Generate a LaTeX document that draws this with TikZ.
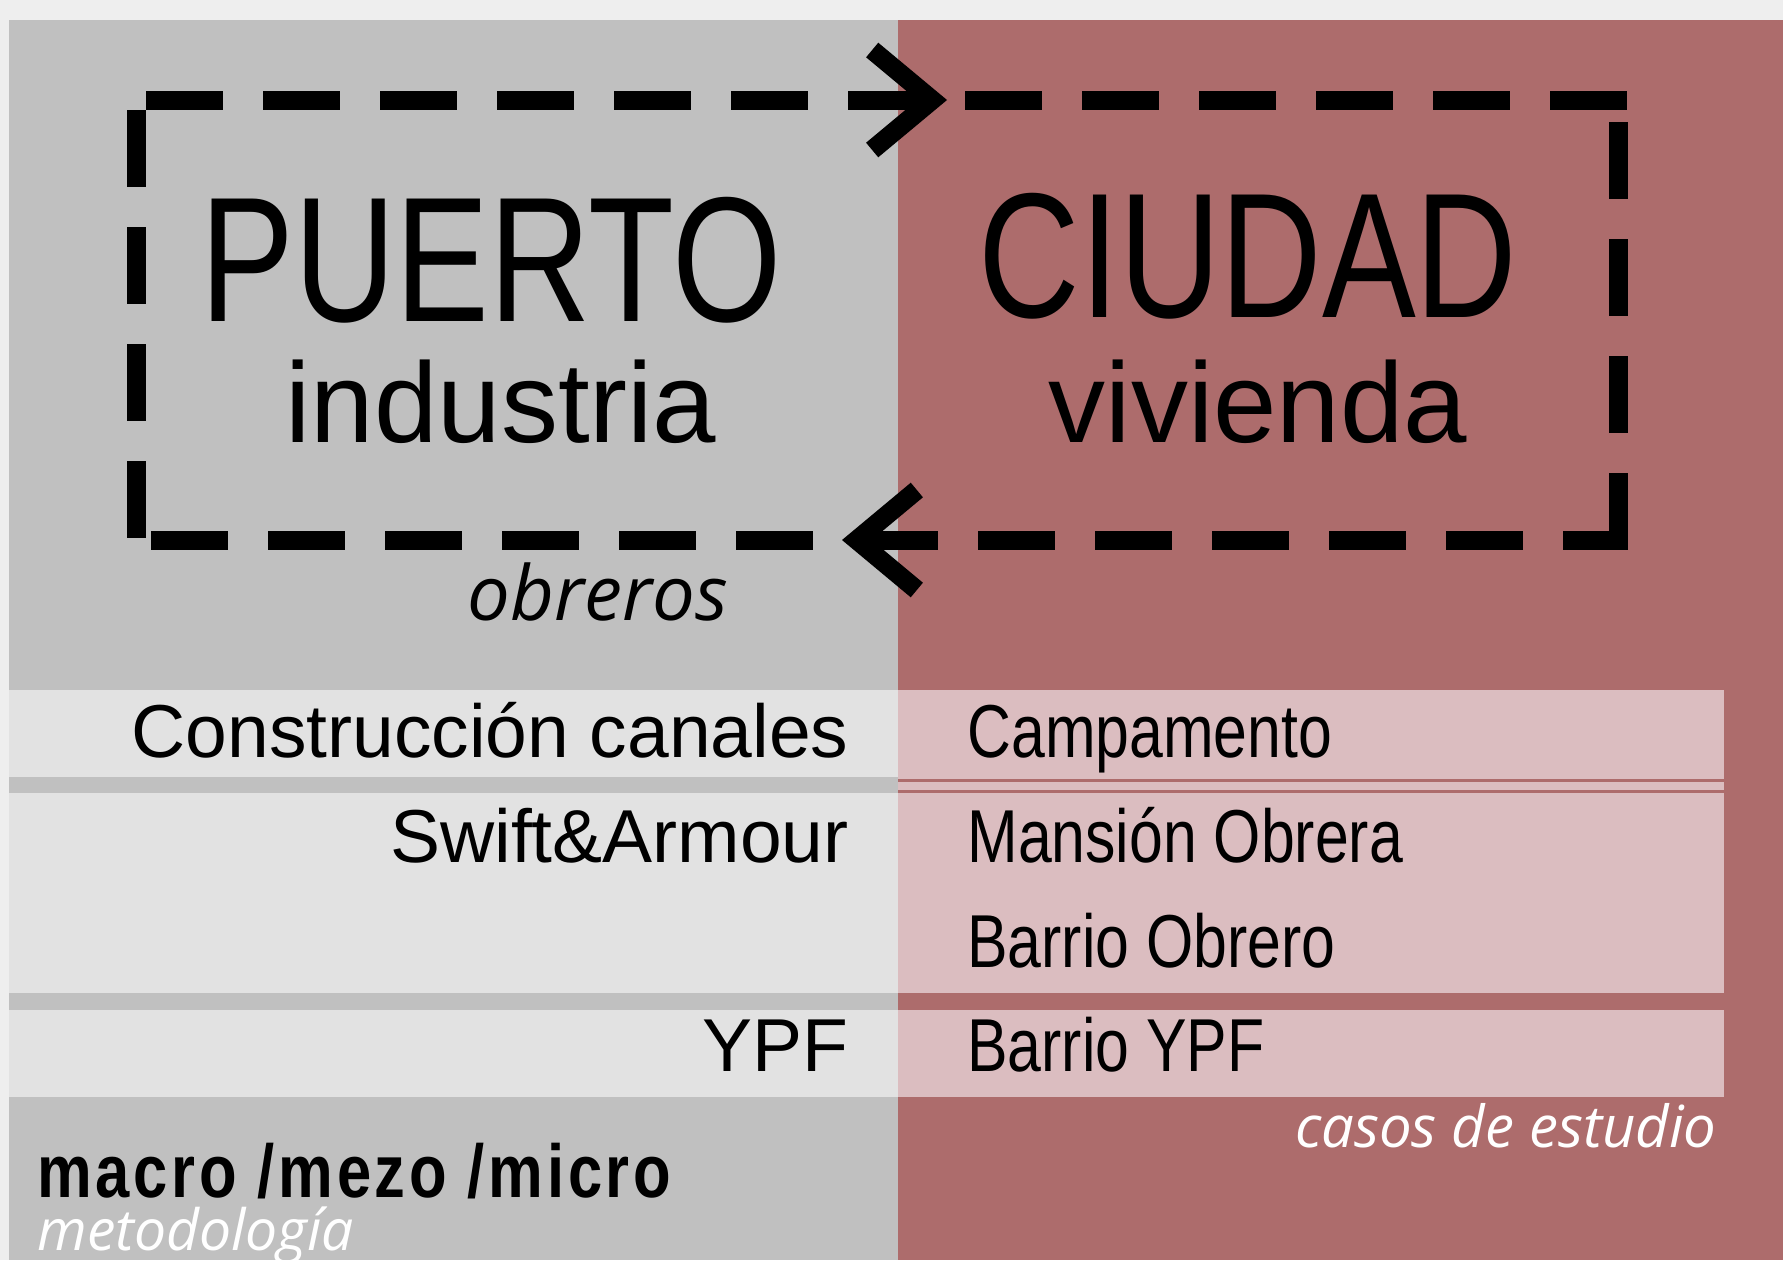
\documentclass[tikz,border=0pt]{standalone}
\usepackage{fontspec}
\setmainfont{Liberation Sans}
\newfontfamily\narrowfont[FakeStretch=0.79]{Liberation Sans}
\newfontfamily\rowfont[FakeStretch=0.81]{Liberation Sans}
\newfontfamily\boldnarrow[FakeStretch=0.82,LetterSpace=5]{Liberation Sans}
\newfontfamily\humfont{Open Sans}
\usetikzlibrary{arrows.meta,positioning}
\definecolor{topgrey}{HTML}{EEEEEE}
\definecolor{panelgrey}{HTML}{C0C0C0}
\definecolor{panelred}{HTML}{AD6C6C}
\definecolor{rowgrey}{HTML}{E2E2E2}
\definecolor{rowpink}{HTML}{DBBDC0}
\tikzset{
dashline/.style={line width=9.5pt, line cap=rect, dash pattern=on 29pt off 29.5pt, dash phase=#1}, % the loop between port and city
dashline/.default=0pt,
barb/.style={-{Straight Barb[length=30pt,width=50pt]}},
bigtitle/.style={inner sep=0pt, anchor=base, font=\narrowfont\fontsize{89}{89}\selectfont},
subtitle/.style={inner sep=0pt, anchor=base, font=\fontsize{57}{57}\selectfont},
lefttext/.style={inner sep=0pt, anchor=base east, font=\fontsize{37.5}{37.5}\selectfont},
righttext/.style={inner sep=0pt, anchor=base west, font=\rowfont\fontsize{37.5}{37.5}\selectfont},
note/.style={inner sep=0pt, font=\humfont\itshape\fontsize{#1}{#1}\selectfont},
}

\begin{document}
\begin{tikzpicture}[x=0.5pt,y=-0.5pt]
    \useasboundingbox (0,0) rectangle (1783,1260);
    % panels
    \fill[topgrey] (0,0) rectangle (1783,1260);
    \fill[panelgrey] (9,20) rectangle (898,1260);
    \fill[panelred] (898,20) rectangle (1783,1260);
    % rows
    \fill[rowgrey] (9,690) rectangle (898,777);
    \fill[rowgrey] (9,793) rectangle (898,993);
    \fill[rowgrey] (9,1010) rectangle (898,1097);
    \fill[rowpink] (898,690) rectangle (1724,993);
    \fill[rowpink] (898,1010) rectangle (1724,1097);
    \draw[panelred, line width=1.5pt] (898,780) -- (1724,780) (898,791) -- (1724,791);

    \node[bigtitle] (puerto) at (491,321) {PUERTO};
    \node[bigtitle] (ciudad) at (1248,317) {CIUDAD};
    \node[subtitle] (industria) at (501,442) {industria};
    \node[subtitle] (vivienda) at (1258,442) {vivienda};
    \node[note=38, anchor=base] (obreros) at (598,620) {obreros};

    \coordinate (tl) at (136,100);
    \coordinate (tr) at (1618,100);
    \coordinate (br) at (1618,540);
    \coordinate (bl) at (136,540);
    \coordinate (tm) at (947,100);
    \coordinate (bm) at (842,540);
    \draw[dashline=48.75pt] (tl) -- (bl);
    \draw[dashline=48.75pt,barb] (tl) -- (tm);
    \draw[dashline=44.75pt] (tm) -- (tr);
    \draw[dashline=42.75pt] (tr) -- (br);
    \draw[dashline=6.25pt,barb] (br) -- (bm);
    \draw[dashline=39.25pt] (bm) -- (bl);

    \node[lefttext] (canales) at (849,757) {Construcción canales};
    \node[lefttext] (swift) at (849,862) {Swift\&Armour};
    \node[lefttext] (ypf) at (849,1071) {YPF};
    \node[righttext] (campamento) at (967,757) {Campamento};
    \node[righttext] (mansion) at (967,862) {Mansión Obrera};
    \node[righttext] (barrio) at (967,967) {Barrio Obrero};
    \node[righttext] (barrioypf) at (967,1071) {Barrio YPF};

    \node[note=29, anchor=base east, text=white] (casos) at (1717,1147) {casos de estudio};
    \node[inner sep=0pt, anchor=base west, font=\boldnarrow\bfseries\fontsize{37.5}{37.5}\selectfont] (escala) at (37,1197) {macro /mezo /micro};
    \node[note=28.5, anchor=base west, text=white] (metodo) at (37,1250) {metodología};
\end{tikzpicture}
\end{document}
